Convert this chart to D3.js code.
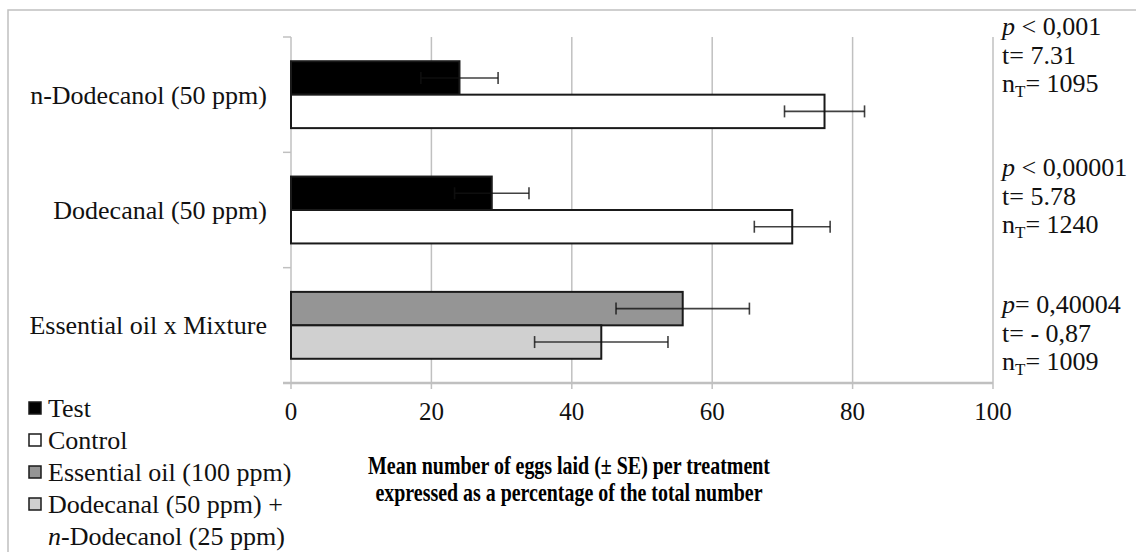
<!DOCTYPE html>
<html>
<head>
<meta charset="utf-8">
<script src="https://cdn.jsdelivr.net/npm/d3@7"></script>
<style>
  html, body { margin: 0; padding: 0; background: #fff; }
  svg { display: block; font-family: "Liberation Serif", "Times New Roman", serif; }
</style>
</head>
<body>
<svg id="chart" width="1136" height="552"></svg>
<script>
// data
let categories = ["n-Dodecanol (50 ppm)", "Dodecanal (50 ppm)", "Essential oil x Mixture"];
let firstSeries = ["Test", "Test", "Essential oil (100 ppm)"];
let firstValues = [24.0, 28.6, 55.8];
let firstSE = [5.5, 5.3, 9.5];
let secondSeries = ["Control", "Control", "Dodecanal (50 ppm) + n-Dodecanol (25 ppm)"];
let secondValues = [76.0, 71.4, 44.2];
let secondSE = [5.7, 5.4, 9.5];
let xTicks = [0, 20, 40, 60, 80, 100];
let legendLabels = ["Test", "Control", "Essential oil (100 ppm)", "Dodecanal (50 ppm) + n-Dodecanol (25 ppm)"];
let pValues = [[" < ", "0,001"], [" < ", "0,00001"], ["= ", "0,40004"]];
let tValues = ["7.31", "5.78", "- 0,87"];
let nValues = ["1095", "1240", "1009"];

let svg = d3.select("#chart");
let grid = "#c0c0c0";
let m = {left: 291, right: 993, top: 37, bottom: 383};

let fill = d3.scaleOrdinal(legendLabels, ["#000000", "#ffffff", "#959595", "#d0d0d0"]);

// outer frame (cropped on the right and bottom)
svg.append("rect")
    .attr("x", 8).attr("y", 10)
    .attr("width", 1300).attr("height", 700)
    .attr("fill", "none")
    .attr("stroke", grid)
    .attr("stroke-width", 1.5);

let x = d3.scaleLinear([0, 100], [m.left, m.right]);
let y = d3.scaleBand(categories, [m.top, m.bottom]).paddingInner(0.42).paddingOuter(0.21);
let ySub = d3.scaleBand([0, 1], [0, y.bandwidth()]);

let rows = categories.map((c, i) => [
    {cat: c, k: 0, s: firstSeries[i], v: firstValues[i], se: firstSE[i]},
    {cat: c, k: 1, s: secondSeries[i], v: secondValues[i], se: secondSE[i]}
]).flat();

// vertical gridlines
svg.selectAll(".grid")
    .data(xTicks.slice(1))
    .join("line")
    .attr("class", "grid")
    .attr("x1", d => x(d)).attr("x2", d => x(d))
    .attr("y1", m.top).attr("y2", m.bottom + 6)
    .attr("stroke", grid)
    .attr("stroke-width", 1.5);

// category axis
let step = y.step();
let bounds = d3.range(categories.length + 1).map(i => m.top + i * step);
svg.append("line")
    .attr("x1", m.left).attr("x2", m.left)
    .attr("y1", m.top).attr("y2", m.bottom + 6)
    .attr("stroke", grid).attr("stroke-width", 1.5);
svg.selectAll(".ytick")
    .data(bounds)
    .join("line")
    .attr("class", "ytick")
    .attr("x1", m.left - 8).attr("x2", m.left)
    .attr("y1", d => d).attr("y2", d => d)
    .attr("stroke", grid).attr("stroke-width", 1.5);

// value axis
svg.append("line")
    .attr("x1", m.left - 8).attr("x2", m.right)
    .attr("y1", m.bottom).attr("y2", m.bottom)
    .attr("stroke", grid).attr("stroke-width", 2.5);

svg.selectAll(".xlab")
    .data(xTicks)
    .join("text")
    .attr("class", "xlab")
    .attr("x", d => x(d))
    .attr("y", 420)
    .attr("text-anchor", "middle")
    .attr("font-size", 25)
    .attr("fill", "#111")
    .text(d => d);

svg.selectAll(".ylab")
    .data(categories)
    .join("text")
    .attr("class", "ylab")
    .attr("x", 267)
    .attr("y", d => y(d) + y.bandwidth() / 2 + 9)
    .attr("text-anchor", "end")
    .attr("font-size", 26)
    .attr("fill", "#111")
    .text(d => d);

// bars
svg.selectAll(".bar")
    .data(rows)
    .join("rect")
    .attr("class", "bar")
    .attr("x", x(0))
    .attr("y", d => y(d.cat) + ySub(d.k))
    .attr("width", d => x(d.v) - x(0))
    .attr("height", ySub.bandwidth())
    .attr("fill", d => fill(d.s))
    .attr("stroke", "#1a1a1a")
    .attr("stroke-width", 2);

// error bars
let eb = svg.selectAll(".err")
    .data(rows)
    .join("g")
    .attr("class", "err")
    .attr("stroke", "#111")
    .attr("stroke-opacity", 0.8)
    .attr("stroke-width", 1.6);
eb.append("line")
    .attr("x1", d => x(d.v - d.se)).attr("x2", d => x(d.v + d.se))
    .attr("y1", d => y(d.cat) + ySub(d.k) + ySub.bandwidth() / 2)
    .attr("y2", d => y(d.cat) + ySub(d.k) + ySub.bandwidth() / 2);
eb.selectAll(".cap")
    .data(d => [d.v - d.se, d.v + d.se].map(v => ({v: v, yc: y(d.cat) + ySub(d.k) + ySub.bandwidth() / 2})))
    .join("line")
    .attr("class", "cap")
    .attr("x1", d => x(d.v)).attr("x2", d => x(d.v))
    .attr("y1", d => d.yc - 6).attr("y2", d => d.yc + 6);

// statistics next to each group
let noteTop = [35, 176, 313];
let notes = svg.selectAll(".note")
    .data(categories)
    .join("g")
    .attr("class", "note")
    .attr("font-size", 26)
    .attr("fill", "#111")
    .attr("transform", (d, i) => `translate(1002,${noteTop[i]})`);
let pl = notes.append("text").attr("y", 0);
pl.append("tspan").attr("font-style", "italic").text("p");
pl.append("tspan").text((d, i) => pValues[i][0] + pValues[i][1]);
notes.append("text").attr("y", 29).text((d, i) => "t= " + tValues[i]);
let nl = notes.append("text").attr("y", 57);
nl.append("tspan").text("n");
nl.append("tspan").attr("font-size", 17).attr("dy", 5).text("T");
nl.append("tspan").attr("dy", -5).text((d, i) => "= " + nValues[i]);

// legend
let legendRows = [
    {s: legendLabels[0], parts: [["Test", "normal"]]},
    {s: legendLabels[1], parts: [["Control", "normal"]]},
    {s: legendLabels[2], parts: [["Essential oil (100 ppm)", "normal"]]},
    {s: legendLabels[3], parts: [["Dodecanal (50 ppm) +", "normal"]]},
    {s: null, parts: [["n", "italic"], ["-Dodecanol (25 ppm)", "normal"]]}
];
let lg = svg.selectAll(".leg")
    .data(legendRows)
    .join("g")
    .attr("class", "leg")
    .attr("transform", (d, i) => `translate(28,${408 + i * 32})`);
lg.filter(d => d.s)
    .append("rect")
    .attr("x", 1).attr("y", -6)
    .attr("width", 12).attr("height", 12)
    .attr("fill", d => fill(d.s))
    .attr("stroke", "#1a1a1a")
    .attr("stroke-width", 1.5);
let lt = lg.append("text")
    .attr("x", 20)
    .attr("y", 9)
    .attr("font-size", 26)
    .attr("fill", "#111");
lt.selectAll("tspan")
    .data(d => d.parts)
    .join("tspan")
    .attr("font-style", d => d[1])
    .text(d => d[0]);

// axis title
let title = ["Mean number of eggs laid (\u00b1 SE) per treatment", "expressed as a percentage of the total number"];
let titleW = [402, 387];
svg.selectAll(".title")
    .data(title)
    .join("text")
    .attr("class", "title")
    .attr("x", 569)
    .attr("y", (d, i) => 474 + i * 27)
    .attr("text-anchor", "middle")
    .attr("font-size", 25)
    .attr("font-weight", "bold")
    .attr("fill", "#000")
    .attr("textLength", (d, i) => titleW[i])
    .attr("lengthAdjust", "spacingAndGlyphs")
    .text(d => d);
</script>
</body>
</html>
